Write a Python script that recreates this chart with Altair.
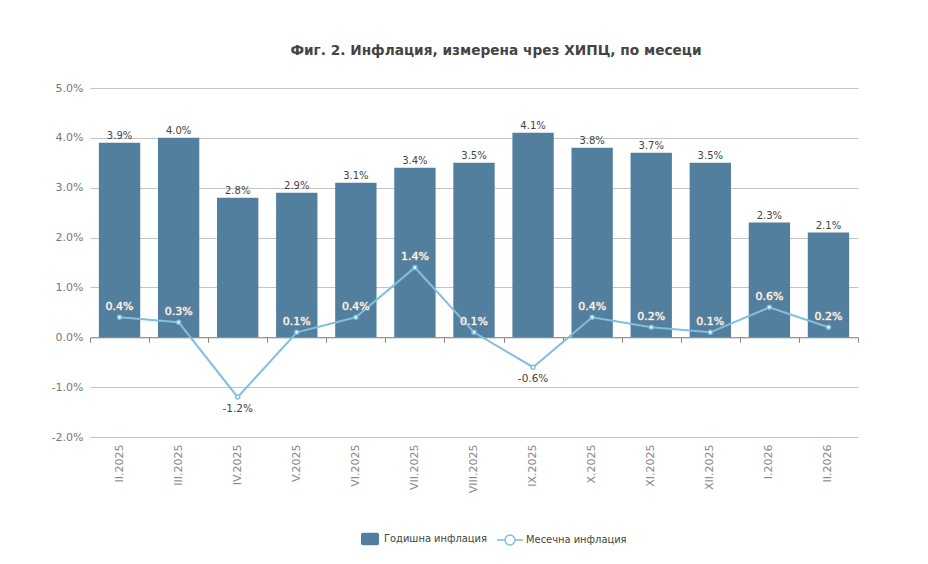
import altair as alt
import pandas as pd

months = ["II.2025", "III.2025", "IV.2025", "V.2025", "VI.2025", "VII.2025", "VIII.2025",
          "IX.2025", "X.2025", "XI.2025", "XII.2025", "I.2026", "II.2026"]
annual = [3.9, 4.0, 2.8, 2.9, 3.1, 3.4, 3.5, 4.1, 3.8, 3.7, 3.5, 2.3, 2.1]
monthly = [0.4, 0.3, -1.2, 0.1, 0.4, 1.4, 0.1, -0.6, 0.4, 0.2, 0.1, 0.6, 0.2]
y_ticks = [-2, -1, 0, 1, 2, 3, 4, 5]
title_text = "Фиг. 2. Инфлация, измерена чрез ХИПЦ, по месеци"
s_annual = "Годишна инфлация"
s_monthly = "Месечна инфлация"

df = pd.DataFrame({
    "month": months,
    "annual": annual,
    "monthly": monthly,
    "alab": [f"{v:.1f}%" for v in annual],
    "mlab": [f"{v:.1f}%" for v in monthly],
    "s1": s_annual,
    "s2": s_monthly,
})

W, H = 768, 349
BAR = "#537f9e"
LINE = "#7fbfe0"
FONT = "DejaVu Sans"
LFONT = "DejaVu Sans Condensed"
ZERO_OFF = -H * 2 / 7

x_scale = alt.Scale(domain=months, paddingInner=0, paddingOuter=0)
y_scale = alt.Scale(domain=[-2, 5], nice=False, zero=False)

base = alt.Chart(df)

rect_path = ("M-0.8,-0.7L0.8,-0.7Q1,-0.7 1,-0.5L1,0.5Q1,0.7 0.8,0.7L-0.8,0.7"
             "Q-1,0.7 -1,0.5L-1,-0.5Q-1,-0.7 -0.8,-0.7Z")
line_path = ("M-1,0L-0.38,0M0.38,0L1,0M-0.38,0A0.38,0.38 0 1,1 0.38,0"
             "A0.38,0.38 0 1,1 -0.38,0")

x_zero_axis = alt.Axis(orient="bottom", labels=False, domain=True, domainColor="#888888",
                       ticks=True, tickColor="#888888", tickSize=5, tickBand="extent",
                       grid=False, offset=ZERO_OFF, title=None)
x_label_axis = alt.Axis(orient="bottom", labels=True, domain=False, ticks=False, grid=False,
                        labelAngle=-90, labelColor="#888888", labelFontSize=11, labelFont=FONT,
                        labelPadding=7, title=None)
y_axis = alt.Axis(values=y_ticks,
                  labelExpr="replace(format(datum.value,'.1f'),'\u2212','-')+'%'",
                  grid=True, gridColor="#c4c4c4", domain=False, ticks=False,
                  labelColor="#777777", labelFontSize=11, labelFont=FONT,
                  labelPadding=7, title=None)


def X(axis=None):
    return alt.X("month:N", sort=months, scale=x_scale, axis=axis)


def Y(field):
    return alt.Y(field, scale=y_scale, axis=y_axis)


bars = base.mark_bar(width=alt.RelativeBandSize(0.7)).encode(
    x=X(x_zero_axis),
    y=Y("annual:Q"),
    color=alt.Color("s1:N", scale=alt.Scale(domain=[s_annual], range=[BAR]),
                    legend=alt.Legend(orient="none", legendX=271, legendY=442, title=None,
                                      symbolType=rect_path, symbolSize=324,
                                      symbolStrokeWidth=0, labelFont=LFONT,
                                      labelFontSize=11, labelColor="#444444",
                                      labelOffset=5)),
)

bar_text = base.mark_text(dy=-7, fontSize=10, color="#444444", font=FONT).encode(
    x=X(), y=Y("annual:Q"), text="alab:N",
)

line = base.mark_line(strokeWidth=2).encode(
    x=X(x_label_axis),
    y=Y("monthly:Q"),
    stroke=alt.Stroke("s2:N", scale=alt.Scale(domain=[s_monthly], range=[LINE]),
                      legend=alt.Legend(orient="none", legendX=406, legendY=438, title=None,
                                        symbolType=line_path, symbolSize=676,
                                        symbolStrokeWidth=1.5, symbolFillColor="white",
                                        labelFont=LFONT, labelFontSize=11,
                                        labelColor="#444444", labelOffset=2)),
)

points = base.mark_point(shape="circle", size=16, filled=False, fill="white", stroke=LINE,
                         strokeWidth=1.5, opacity=1).encode(
    x=X(), y=Y("monthly:Q"),
)

pos = base.transform_filter("datum.monthly >= 0")
pos_halo = pos.mark_text(
    dy=-10, fontSize=11, fill="#a0a0a0", stroke="#a0a0a0", strokeWidth=1.2, font=FONT,
    strokeJoin="round"
).encode(x=X(), y=Y("monthly:Q"), text="mlab:N")
pos_text = pos.mark_text(
    dy=-10, fontSize=11, fill="white", font=FONT
).encode(x=X(), y=Y("monthly:Q"), text="mlab:N")

neg_text = base.transform_filter("datum.monthly < 0").mark_text(
    dy=12, fontSize=10.5, color="#444444", font=FONT
).encode(x=X(), y=Y("monthly:Q"), text="mlab:N")

chart = alt.layer(bars, bar_text, line, points, pos_halo, pos_text, neg_text).resolve_axis(
    x="independent"
).properties(
    width=W, height=H,
    title=alt.TitleParams(title_text, font=FONT, fontSize=13.7, fontWeight="bold",
                          color="#444444", anchor="middle", dx=22, offset=24),
    autosize=alt.AutoSizeParams(type="none"),
    padding={"left": 82, "top": 80, "right": 62, "bottom": 119},
    background="white",
).configure_view(stroke=None)

chart.save("out.html", embed_options={"renderer": "svg", "actions": False})
